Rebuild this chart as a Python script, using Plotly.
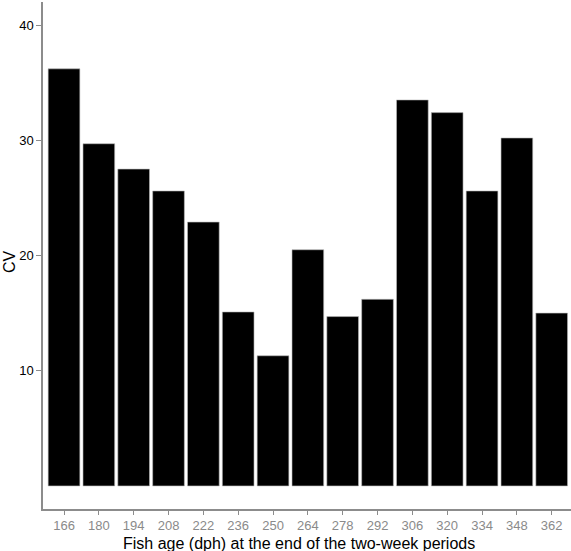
import plotly.graph_objects as go

ages = ["166", "180", "194", "208", "222", "236", "250", "264", "278", "292", "306", "320", "334", "348", "362"]
cv = [36.2, 29.7, 27.5, 25.6, 22.9, 15.1, 11.3, 20.5, 14.7, 16.2, 33.5, 32.4, 25.6, 30.2, 15.0]
y_ticks = [10, 20, 30, 40]

fig = go.Figure(go.Bar(
    x=ages, y=cv,
    marker=dict(color="black", line=dict(color="#bbbbbb", width=0.6)),
))

font = "Liberation Sans, Arial, sans-serif"
fig.update_layout(
    width=571, height=551,
    margin=dict(l=43, r=0, t=2, b=42),
    paper_bgcolor="white", plot_bgcolor="white",
    bargap=0.09,
    showlegend=False,
    font=dict(family=font),
    xaxis=dict(
        type="category", range=[-0.603, 14.554],
        showline=True, linecolor="#8c8c8c", linewidth=1.5,
        ticks="outside", ticklen=4, tickcolor="#8c8c8c", tickwidth=1.2,
        tickfont=dict(size=13, color="#8a8a8a", family=font),
        showgrid=False, zeroline=False,
    ),
    yaxis=dict(
        range=[-2, 42], tickvals=y_ticks,
        showline=True, linecolor="#8c8c8c", linewidth=1.5,
        ticks="outside", ticklen=5, tickcolor="#8c8c8c", tickwidth=1.2,
        tickfont=dict(size=13, color="black", family=font),
        showgrid=False, zeroline=False,
    ),
    annotations=[
        dict(
            text="CV", textangle=-90, xref="paper", yref="paper",
            x=(9 - 43) / 528, y=(509 - 262) / 507, xanchor="center", yanchor="middle",
            showarrow=False, font=dict(size=16, color="black", family=font),
        ),
        dict(
            text="Fish age (dph) at the end of the two-week periods",
            xref="paper", yref="paper",
            x=(299 - 43) / 528, y=(509 - 543) / 507, xanchor="center", yanchor="middle",
            showarrow=False, font=dict(size=16, color="black", family=font),
        ),
    ],
)

fig.write_html("out.html")
